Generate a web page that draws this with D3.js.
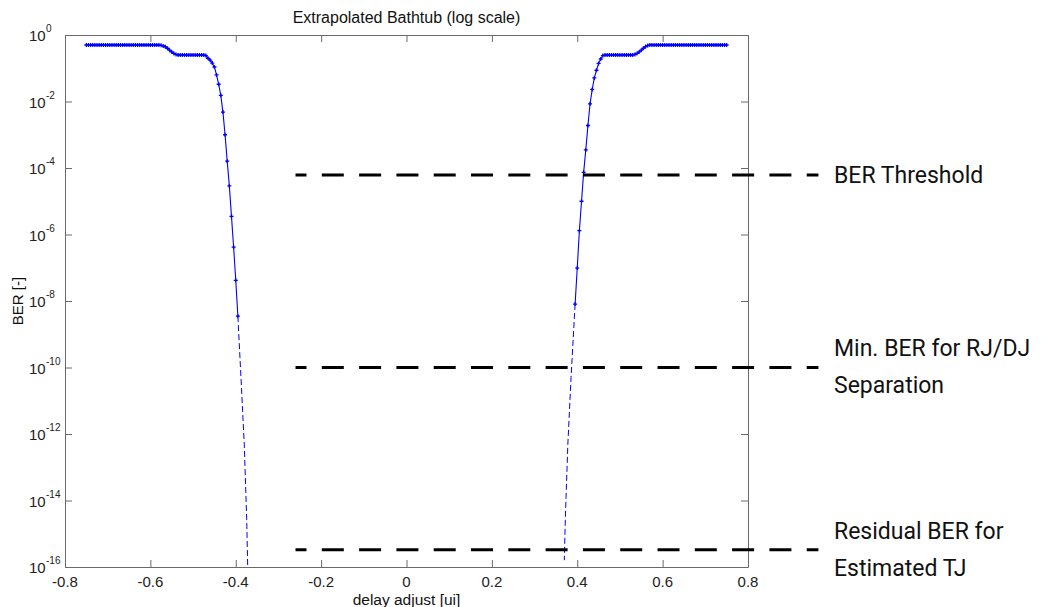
<!DOCTYPE html>
<html>
<head>
<meta charset="utf-8">
<script src="https://cdn.jsdelivr.net/npm/d3@7"></script>
<style>
    body { margin: 0; background: #ffffff; }
    svg { display: block; font-family: "Liberation Sans", Arial, sans-serif; }
</style>
</head>
<body>
<svg id="bathtub"></svg>
<script>
// Measured bathtub, left edge (delay in ui, BER)
const leftDelay = [
    -0.750, -0.745, -0.740, -0.735, -0.730, -0.725, -0.720, -0.715, -0.710, -0.705,
    -0.700, -0.695, -0.690, -0.685, -0.680, -0.675, -0.670, -0.665, -0.660, -0.655,
    -0.650, -0.645, -0.640, -0.635, -0.630, -0.625, -0.620, -0.615, -0.610, -0.605,
    -0.600, -0.595, -0.590, -0.585, -0.580,
    -0.575, -0.570, -0.565, -0.560, -0.555, -0.550, -0.545, -0.540, -0.535,
    -0.530, -0.525, -0.520, -0.515, -0.510, -0.505, -0.500, -0.495, -0.490, -0.485,
    -0.480, -0.475, -0.470,
    -0.465, -0.460, -0.455, -0.450, -0.445, -0.440, -0.435, -0.430, -0.425, -0.420,
    -0.415, -0.410, -0.405, -0.400, -0.395
];
const leftBer = [
    0.5, 0.5, 0.5, 0.5, 0.5, 0.5, 0.5, 0.5, 0.5, 0.5,
    0.5, 0.5, 0.5, 0.5, 0.5, 0.5, 0.5, 0.5, 0.5, 0.5,
    0.5, 0.5, 0.5, 0.5, 0.5, 0.5, 0.5, 0.5, 0.5, 0.5,
    0.5, 0.5, 0.5, 0.5, 0.5,
    0.49, 0.47, 0.44, 0.40, 0.35, 0.31, 0.28, 0.26, 0.25,
    0.25, 0.25, 0.25, 0.25, 0.25, 0.25, 0.25, 0.25, 0.25, 0.25,
    0.25, 0.25, 0.24,
    0.20, 0.175, 0.143, 0.109, 0.063, 0.033, 0.0153, 4.8e-3, 1.0e-3, 1.6e-4,
    2.9e-5, 3.5e-6, 4.2e-7, 4.2e-8, 3.5e-9
];

// Measured bathtub, right edge
const rightDelay = [
    0.395, 0.400, 0.405, 0.410, 0.415, 0.420, 0.425, 0.430, 0.435, 0.440,
    0.445, 0.450, 0.455, 0.460,
    0.465, 0.470, 0.475, 0.480, 0.485, 0.490, 0.495, 0.500, 0.505, 0.510,
    0.515, 0.520, 0.525, 0.530,
    0.535, 0.540, 0.545, 0.550, 0.555, 0.560, 0.565,
    0.570, 0.575, 0.580, 0.585, 0.590, 0.595, 0.600, 0.605, 0.610, 0.615,
    0.620, 0.625, 0.630, 0.635, 0.640, 0.645, 0.650, 0.655, 0.660, 0.665,
    0.670, 0.675, 0.680, 0.685, 0.690, 0.695, 0.700, 0.705, 0.710, 0.715,
    0.720, 0.725, 0.730, 0.735, 0.740, 0.745, 0.750
];
const rightBer = [
    8.1e-9, 9.8e-8, 1.3e-6, 1.0e-5, 7.4e-5, 3.5e-4, 1.9e-3, 8.5e-3, 0.023, 0.051,
    0.087, 0.14, 0.19, 0.24,
    0.25, 0.25, 0.25, 0.25, 0.25, 0.25, 0.25, 0.25, 0.25, 0.25,
    0.25, 0.25, 0.25, 0.25,
    0.26, 0.28, 0.31, 0.35, 0.40, 0.45, 0.48,
    0.5, 0.5, 0.5, 0.5, 0.5, 0.5, 0.5, 0.5, 0.5, 0.5,
    0.5, 0.5, 0.5, 0.5, 0.5, 0.5, 0.5, 0.5, 0.5, 0.5,
    0.5, 0.5, 0.5, 0.5, 0.5, 0.5, 0.5, 0.5, 0.5, 0.5,
    0.5, 0.5, 0.5, 0.5, 0.5, 0.5, 0.5
];

// Extrapolated tails (dashed)
const leftExtrapDelay = [-0.395, -0.3877, -0.380, -0.3743, -0.372];
const leftExtrapBer = [3.5e-9, 4.8e-11, 4.7e-13, 2.6e-15, 1e-16];
const rightExtrapDelay = [0.395, 0.3855, 0.378, 0.3722, 0.3697];
const rightExtrapBer = [8.1e-9, 5.0e-11, 5.0e-13, 3.2e-15, 1.6e-16];

// Axis ticks
const xTicks = [-0.8, -0.6, -0.4, -0.2, 0, 0.2, 0.4, 0.6, 0.8];
const xTickLabels = ["-0.8", "-0.6", "-0.4", "-0.2", "0", "0.2", "0.4", "0.6", "0.8"];
const yTickExps = [0, -2, -4, -6, -8, -10, -12, -14, -16];

// Annotation levels
const levelBer = [6.2e-5, 1e-10, 3.3e-16];
const levelLabels = [["BER Threshold"], ["Min. BER for RJ/DJ", "Separation"], ["Residual BER for", "Estimated TJ"]];
const levelSpan = [-0.26, 0.965];

// Layout
const width = 1042, height = 607;
const plot = { left: 65, right: 748, top: 35, bottom: 567 };
const axisColor = "#6a6a6a";
const blue = "#0000ff";

const svg = d3.select("#bathtub")
    .attr("width", width)
    .attr("height", height);

const x = d3.scaleLinear().domain([-0.8, 0.8]).range([plot.left, plot.right]);
const y = d3.scaleLog().domain([1e-16, 1]).range([plot.bottom, plot.top]);

svg.append("clipPath").attr("id", "plot-clip")
    .append("rect")
    .attr("x", plot.left).attr("y", plot.top)
    .attr("width", plot.right - plot.left)
    .attr("height", plot.bottom - plot.top);

// Axes (ticks point inward on all four sides)
function styleAxis(g) {
    g.select(".domain").attr("stroke", axisColor);
    g.selectAll(".tick line").attr("stroke", axisColor);
}
const yTickVals = yTickExps.map(e => Math.pow(10, e));

svg.append("g")
    .attr("transform", "translate(0," + plot.bottom + ")")
    .call(d3.axisBottom(x).tickValues(xTicks).tickSize(-7).tickSizeOuter(0).tickFormat(""))
    .call(styleAxis);
svg.append("g")
    .attr("transform", "translate(0," + plot.top + ")")
    .call(d3.axisTop(x).tickValues(xTicks).tickSize(-7).tickSizeOuter(0).tickFormat(""))
    .call(styleAxis);
svg.append("g")
    .attr("transform", "translate(" + plot.left + ",0)")
    .call(d3.axisLeft(y).tickValues(yTickVals).tickSize(-7).tickSizeOuter(0).tickFormat(""))
    .call(styleAxis);
svg.append("g")
    .attr("transform", "translate(" + plot.right + ",0)")
    .call(d3.axisRight(y).tickValues(yTickVals).tickSize(-7).tickSizeOuter(0).tickFormat(""))
    .call(styleAxis);

// X tick labels
svg.append("g").selectAll("text")
    .data(xTicks)
    .enter().append("text")
    .attr("x", d => x(d))
    .attr("y", plot.bottom + 20)
    .attr("text-anchor", "middle")
    .attr("font-size", "15px")
    .attr("fill", "#222")
    .text((d, i) => xTickLabels[i]);

// Y tick labels: 10 with superscript exponent
const yLabels = svg.append("g").selectAll("g")
    .data(yTickExps)
    .enter().append("g")
    .attr("transform", d => "translate(29," + y(Math.pow(10, d)) + ")");
yLabels.append("text")
    .attr("y", 6)
    .attr("font-size", "15px")
    .attr("fill", "#222")
    .text("10");
yLabels.append("text")
    .attr("x", 17)
    .attr("y", -3)
    .attr("font-size", "10px")
    .attr("fill", "#222")
    .text(d => d);

// Title and axis labels
svg.append("text")
    .attr("x", (plot.left + plot.right) / 2)
    .attr("y", 23)
    .attr("text-anchor", "middle")
    .attr("font-size", "16px")
    .attr("fill", "#111")
    .text("Extrapolated Bathtub (log scale)");

svg.append("text")
    .attr("x", (plot.left + plot.right) / 2)
    .attr("y", 605)
    .attr("text-anchor", "middle")
    .attr("font-size", "15.5px")
    .attr("fill", "#111")
    .text("delay adjust [ui]");

svg.append("text")
    .attr("transform", "translate(23," + (plot.top + plot.bottom) / 2 + ") rotate(-90)")
    .attr("text-anchor", "middle")
    .attr("font-size", "15px")
    .attr("fill", "#111")
    .text("BER [-]");

// Curves
const plotArea = svg.append("g").attr("clip-path", "url(#plot-clip)");
const line = d3.line().x(d => x(d[0])).y(d => y(d[1]));

const sides = [
    { delay: leftDelay, ber: leftBer, exDelay: leftExtrapDelay, exBer: leftExtrapBer },
    { delay: rightDelay, ber: rightBer, exDelay: rightExtrapDelay, exBer: rightExtrapBer }
];

sides.forEach(function(s) {
    const pts = s.delay.map((d, i) => [d, s.ber[i]]);
    const ex = s.exDelay.map((d, i) => [d, s.exBer[i]]);

    // dashed extrapolation
    plotArea.append("path")
        .datum(ex)
        .attr("d", line)
        .attr("fill", "none")
        .attr("stroke", blue)
        .attr("stroke-width", 1)
        .attr("stroke-dasharray", "6,3");

    // measured curve
    plotArea.append("path")
        .datum(pts)
        .attr("d", line)
        .attr("fill", "none")
        .attr("stroke", blue)
        .attr("stroke-width", 1.1);

    // point markers
    plotArea.append("g").selectAll("path")
        .data(pts)
        .enter().append("path")
        .attr("transform", d => "translate(" + x(d[0]) + "," + y(d[1]) + ")")
        .attr("d", "M-2,0H2M0,-2V2")
        .attr("stroke", blue)
        .attr("stroke-width", 1.3);
});

// Annotation levels with labels
const labelOffsets = [[8], [-12, 25], [-11, 26]];
levelBer.forEach(function(b, i) {
    const ly = y(b);
    svg.append("line")
        .attr("x1", x(levelSpan[0]))
        .attr("x2", x(levelSpan[1]))
        .attr("y1", ly)
        .attr("y2", ly)
        .attr("stroke", "#000")
        .attr("stroke-width", 3)
        .attr("stroke-dasharray", "22,15.3")
        .attr("stroke-dashoffset", 11);

    const t = svg.append("text")
        .attr("font-family", "Roboto, 'Liberation Sans Narrow', sans-serif")
        .attr("font-size", "23px")
        .attr("fill", "#111");
    levelLabels[i].forEach(function(s, j) {
        t.append("tspan")
            .attr("x", 834)
            .attr("y", ly + labelOffsets[i][j])
            .text(s);
    });
});
</script>
</body>
</html>
